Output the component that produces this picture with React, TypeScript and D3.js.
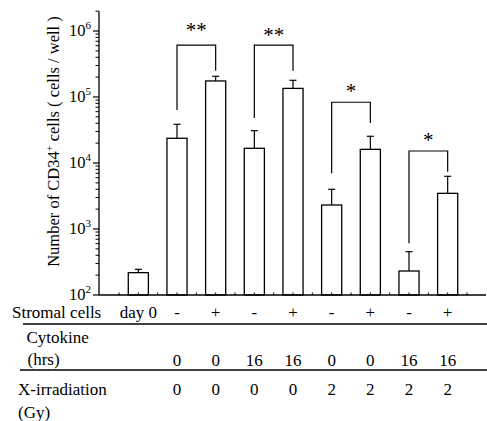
import React from 'react';
import * as d3 from 'd3';

// bar groups (left to right)
const groups = ['g0', 'g1', 'g2', 'g3', 'g4', 'g5', 'g6', 'g7', 'g8'];
const means = [218, 23700, 175000, 16700, 135000, 2310, 16100, 231, 3470];
const errTops = [245, 38600, 206000, 30900, 179000, 4000, 25400, 453, 6290];

// condition table rows
const stromalRow = ['day 0', '-', '+', '-', '+', '-', '+', '-', '+'];
const cytokineRow = ['', '0', '0', '16', '16', '0', '0', '16', '16'];
const xrayRow = ['', '0', '0', '0', '0', '2', '2', '2', '2'];

// significance brackets (indexes into groups), heights in data units
const pairs = [[1, 2], [3, 4], [5, 6], [7, 8]];
const pairMarks = ['**', '**', '*', '*'];
const bracketTop = [610000, 610000, 83200, 15200];
const bracketLeftEnd = [63500, 48100, 6980, 607];
const bracketRightEnd = [250000, 250000, 40400, 7380];
const markAt = [1160000, 970000, 137000, 25200];

const decades = [1e2, 1e3, 1e4, 1e5, 1e6];
const exponents = ['2', '3', '4', '5', '6'];

const W = 487;
const H = 421;
const FONT = '"Liberation Serif"';

const axisX = 99;
const axisRight = 486;
const baseY = 295;

const x = d3.scaleBand()
  .domain(groups)
  .range([119, 467])
  .paddingInner(0.48)
  .paddingOuter(0.24);
const cx = (i: number) => (x(groups[i]) as number) + x.bandwidth() / 2;

const y = d3.scaleLog()
  .domain([100, 2e6])
  .range([baseY, baseY - 66 * Math.log10(2e4)]);

const minors: number[] = [];
decades.forEach(d => {
  for (let k = 2; k <= 9; k++) if (d * k <= 2e6) minors.push(d * k);
});

const half = x.step() / 2;
const xTicks: number[] = [];
for (let t = cx(0) - half; t < axisRight - 2; t += half) xTicks.push(t);

const txt = (size: number): React.CSSProperties => ({ fontFamily: FONT, fontSize: size });

const Row = ({ vals, ry }: { vals: string[]; ry: number }) => (
  <g>
    {vals.map((v, i) => (
      <text key={i} x={cx(i)} y={ry} textAnchor="middle" style={txt(17)}>{v}</text>
    ))}
  </g>
);

const App = () => (
  <svg width={W} height={H} style={{ position: 'absolute', left: 0, top: 0, background: '#fff' }}>
    {/* y axis */}
    <line x1={axisX} x2={axisX} y1={y(2e6)} y2={baseY} stroke="#000" strokeWidth={1.3} />
    {decades.map(d => (
      <line key={'M' + d} x1={axisX - 6} x2={axisX} y1={y(d)} y2={y(d)} stroke="#000" strokeWidth={1.2} />
    ))}
    {minors.map(d => (
      <line key={'m' + d} x1={axisX - 3.5} x2={axisX} y1={y(d)} y2={y(d)} stroke="#000" strokeWidth={1} />
    ))}
    {decades.map((d, i) => (
      <text key={'t' + d} x={axisX - 8} y={y(d) + 5} textAnchor="end" style={txt(16.5)}>
        10<tspan dy={-7} style={{ fontSize: 11 }}>{exponents[i]}</tspan>
      </text>
    ))}
    <text transform="translate(59, 141.5) rotate(-90)" textAnchor="middle" style={txt(16.5)}>
      Number of CD34<tspan dy={-6} style={{ fontSize: 10.5 }}>+</tspan>
      <tspan dy={6}> cells ( cells / well )</tspan>
    </text>

    {/* bars */}
    {means.map((m, i) => (
      <rect key={'b' + i} x={x(groups[i])} y={y(m)} width={x.bandwidth()} height={baseY - y(m)}
        fill="#fff" stroke="#000" strokeWidth={1.3} />
    ))}
    {errTops.map((e, i) => (
      <g key={'e' + i} stroke="#000" strokeWidth={1.2}>
        <line x1={cx(i)} x2={cx(i)} y1={y(means[i])} y2={y(e)} />
        <line x1={cx(i) - 3.5} x2={cx(i) + 3.5} y1={y(e)} y2={y(e)} />
      </g>
    ))}

    {/* baseline */}
    <line x1={axisX} x2={axisRight} y1={baseY} y2={baseY} stroke="#000" strokeWidth={1.4} />
    {xTicks.map((t, i) => (
      <line key={'x' + i} x1={t} x2={t} y1={baseY} y2={baseY - 2.5} stroke="#000" strokeWidth={1} />
    ))}

    {/* significance */}
    {pairs.map(([a, b], i) => (
      <g key={'p' + i}>
        <path d={`M${cx(a)},${y(bracketLeftEnd[i])}V${y(bracketTop[i])}H${cx(b)}V${y(bracketRightEnd[i])}`}
          fill="none" stroke="#000" strokeWidth={1.2} />
        <text x={(cx(a) + cx(b)) / 2} y={y(markAt[i]) + 10} textAnchor="middle" style={txt(21)}>
          {pairMarks[i]}
        </text>
      </g>
    ))}

    {/* table */}
    <text x={12} y={318} style={txt(17)}>Stromal cells</text>
    <Row vals={stromalRow} ry={318} />
    <line x1={23} x2={W} y1={324} y2={324} stroke="#000" strokeWidth={1.5} />

    <text x={26.5} y={343} style={txt(17)}>Cytokine</text>
    <text x={27.5} y={365} style={txt(17)}>(hrs)</text>
    <Row vals={cytokineRow} ry={366} />
    <line x1={20} x2={W} y1={370} y2={370} stroke="#000" strokeWidth={1.5} />

    <text x={18} y={395} style={txt(17)}>X-irradiation</text>
    <text x={18} y={418} style={txt(17)}>(Gy)</text>
    <Row vals={xrayRow} ry={395} />
  </svg>
);

export default App;
